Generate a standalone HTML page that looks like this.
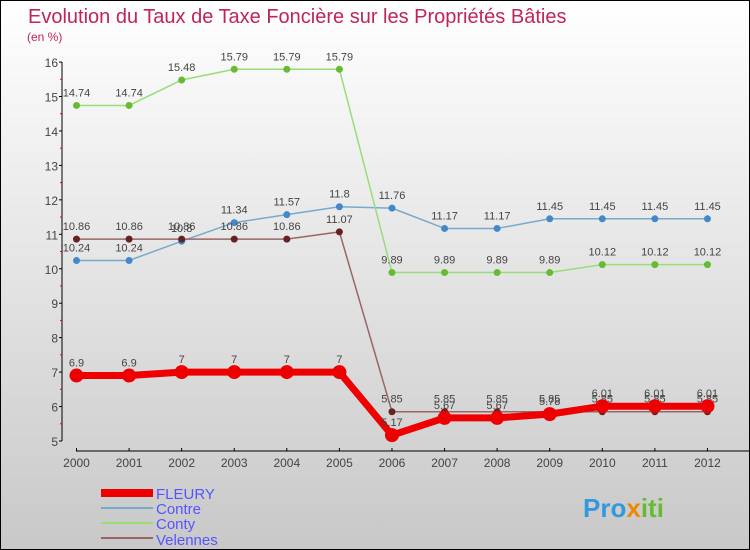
<!DOCTYPE html>
<html><head><meta charset="utf-8"><style>
body{margin:0;}
#wrap{position:relative;width:748px;height:548px;border:1px solid #000;background:linear-gradient(#ffffff,#c8c8c8);font-family:"Liberation Sans",sans-serif;overflow:hidden}
text{font-family:"Liberation Sans",sans-serif}
</style></head><body>
<div id="wrap">
<svg id="svg" width="748" height="548">
<text x="27" y="22" font-size="20" fill="#c0245c">Evolution du Taux de Taxe Foncière sur les Propriétés Bâties</text>
<text x="26" y="40" font-size="12" fill="#c0245c">(en %)</text>
<g id="axes"></g><g id="series"></g>
<g>
<rect x="100" y="488" width="52" height="8" fill="#ee0000"/>
<text x="155" y="498" font-size="15" fill="#5555ff">FLEURY</text>
<rect x="100" y="506" width="52" height="2" fill="#77aacc"/>
<text x="155" y="513" font-size="15" fill="#5555ff">Contre</text>
<rect x="100" y="521" width="52" height="2" fill="#99dd77"/>
<text x="155" y="528" font-size="15" fill="#5555ff">Conty</text>
<rect x="100" y="536" width="52" height="2" fill="#996666"/>
<text x="155" y="544" font-size="15" fill="#5555ff">Velennes</text>
</g>
<text x="582" y="516" font-size="26" font-weight="bold" fill="#3399dd">Pro<tspan fill="#ee8800">x</tspan><tspan fill="#66bb33">iti</tspan></text>
</svg></div>
<script>
const years=[2000,2001,2002,2003,2004,2005,2006,2007,2008,2009,2010,2011,2012];
const yTicks=[5,6,7,8,9,10,11,12,13,14,15,16];
const fleury=[6.9,6.9,7,7,7,7,5.17,5.67,5.67,5.78,6.01,6.01,6.01];
const contre=[10.24,10.24,10.8,11.34,11.57,11.8,11.76,11.17,11.17,11.45,11.45,11.45,11.45];
const conty=[14.74,14.74,15.48,15.79,15.79,15.79,9.89,9.89,9.89,9.89,10.12,10.12,10.12];
const velennes=[10.86,10.86,10.86,10.86,10.86,11.07,5.85,5.85,5.85,5.85,5.85,5.85,5.85];
const NS='http://www.w3.org/2000/svg';
const X=i=>75.5+i*52.58, Y=v=>440-(v-5)*34.45;
function mk(t,a,p){const e=document.createElementNS(NS,t);for(const k in a)e.setAttribute(k,a[k]);p.appendChild(e);return e;}
const ax=document.getElementById('axes');
let l=mk('line',{x1:61,y1:61,x2:61,y2:440,stroke:'#000','stroke-width':1},ax);

l=mk('line',{x1:75,y1:450,x2:748,y2:450,stroke:'#000','stroke-width':1},ax);

yTicks.forEach(v=>{mk('line',{x1:58,y1:Y(v),x2:61,y2:Y(v),stroke:'#000'},ax);
 if(v<16)mk('line',{x1:59,y1:Y(v+0.5),x2:61,y2:Y(v+0.5),stroke:'#e00'},ax);
 const t=mk('text',{x:57,y:Y(v)+5,'font-size':12,fill:'#444','text-anchor':'end'},ax);t.textContent=v;
 });
years.forEach((y,i)=>{mk('line',{x1:X(i),y1:447,x2:X(i),y2:450,stroke:'#000'},ax);
 const t=mk('text',{x:X(i),y:466,'font-size':12,fill:'#444','text-anchor':'middle'},ax);t.textContent=y;
 });
const sg=document.getElementById('series');
function draw(name,vals,col,w,r,dot){
 const g=mk('g',{},sg);
 mk('polyline',{points:vals.map((v,i)=>X(i)+','+Y(v)).join(' '),fill:'none',stroke:col,'stroke-width':w,'stroke-linejoin':'round'},g);
 vals.forEach((v,i)=>{const c=mk('circle',{cx:X(i),cy:Y(v),r:r,fill:dot},g);
  
  const t=mk('text',{x:X(i),y:Y(v)-9,'font-size':11,fill:'#444','text-anchor':'middle'},g);t.textContent=v;
  });
}
draw('contre',contre,'#77aacc',1.5,3.5,'#4488cc');
draw('conty',conty,'#99dd77',1.5,3.5,'#66bb33');
draw('velennes',velennes,'#996666',1.5,3.5,'#662222');
draw('fleury',fleury,'#ee0000',7,7,'#ee0000');
</script></body></html>
